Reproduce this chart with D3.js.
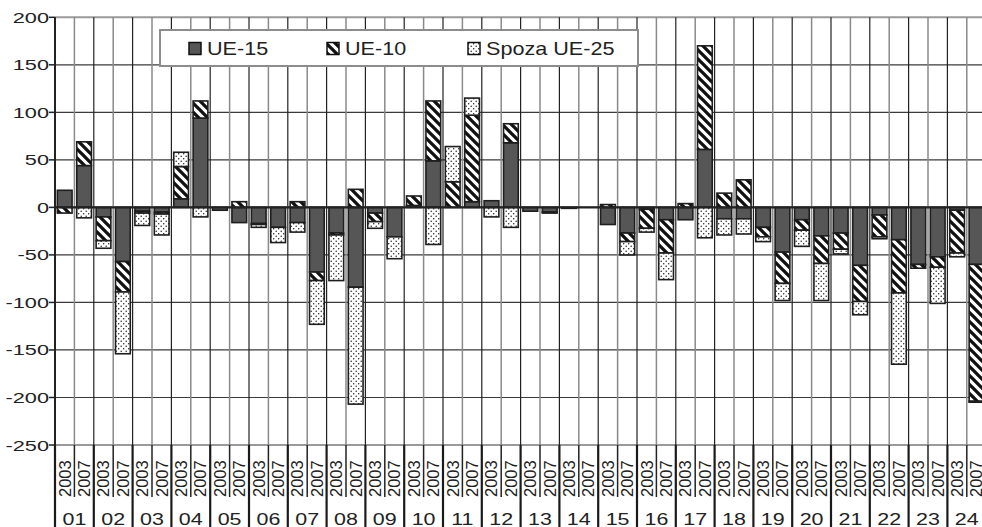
<!DOCTYPE html>
<html>
<head>
<meta charset="utf-8">
<script src="https://cdn.jsdelivr.net/npm/d3@7"></script>
<style>
  body { margin: 0; background: white; }
  text { font-family: "Liberation Sans", Arial, sans-serif; fill: #222; }
</style>
</head>
<body>
<div id="container"></div>
<script>
// data (group, then year 2003 / 2007)
let groups = ["01","02","03","04","05","06","07","08","09","10","11","12",
              "13","14","15","16","17","18","19","20","21","22","23","24"];
let years = ["2003", "2007"];
let seriesNames = ["UE-15", "UE-10", "Spoza UE-25"];
let yTicks = [-250, -200, -150, -100, -50, 0, 50, 100, 150, 200];

let ue15 = [18, 44, -10, -57, -4, -5, 9, 94, -3, -16, -17, -21, -16, -68, -27, -84,
            -6, -31, 2, 49, 0, 6, 7, 68, -4, -5, -1, 0, -18, -27, -2, -13,
            -13, 61, -12, -12, -21, -47, -13, -30, -27, -61, -8, -34, -60, -52, -3, -60];
let ue10 = [-6, 25, -25, -32, -2, -2, 34, 18, 0, 6, -1, 0, 6, -9, -2, 19,
            -9, 0, 10, 63, 27, 91, 0, 20, 0, -1, 0, 0, 3, -9, -20, -35,
            4, 109, 15, 29, -10, -33, -11, -29, -17, -38, -23, -56, -4, -11, -45, -144];
let spoza = [0, -11, -8, -65, -13, -22, 15, -10, 0, 0, -3, -16, -10, -46, -48, -123,
             -7, -23, 0, -39, 37, 18, -10, -21, 0, 0, 0, 0, 0, -14, -4, -28,
             0, -32, -17, -16, -5, -18, -17, -39, -5, -14, -2, -75, 0, -38, -4, -1];

let w = 982;
let h = 527;
let plotLeft = 55;
let colW = 19.4;
let plotTop = 17.3;
let plotBottom = 445;

let viz = d3.select("#container")
              .append("svg")
                .attr("width", w)
                .attr("height", h)
                .style("display", "block")
                .style("background-color", "white")
;

// rows for the stack
let rows = [];
groups.forEach((g, gi) => {
  years.forEach((yr, yi) => {
    let i = gi * 2 + yi;
    rows.push({group: g, year: yr, "UE-15": ue15[i], "UE-10": ue10[i], "Spoza UE-25": spoza[i]});
  });
});

let x0 = d3.scaleBand()
            .domain(groups)
            .range([plotLeft, plotLeft + groups.length * 2 * colW])
            .padding(0)
;
let x1 = d3.scaleBand()
            .domain(years)
            .range([0, x0.bandwidth()])
            .paddingInner(0.24)
            .paddingOuter(0.12)
;
let yearCol = d3.scaleBand()
            .domain(years)
            .range([0, x0.bandwidth()])
;
let y = d3.scaleLinear()
            .domain([-250, 200])
            .range([plotBottom, plotTop])
;

// patterns
let defs = viz.append("defs");
let hatch = defs.append("pattern")
              .attr("id", "hatch")
              .attr("patternUnits", "userSpaceOnUse")
              .attr("width", 9)
              .attr("height", 9)
;
hatch.append("rect").attr("width", 9).attr("height", 9).attr("fill", "white");
hatch.append("path")
        .attr("d", "M-1,-1 L10,10 M-5,4 L5,14 M4,-5 L14,5")
        .attr("stroke", "#111")
        .attr("stroke-width", 3.3)
;
let dots = defs.append("pattern")
              .attr("id", "dots")
              .attr("patternUnits", "userSpaceOnUse")
              .attr("width", 5)
              .attr("height", 5)
;
dots.append("rect").attr("width", 5).attr("height", 5).attr("fill", "white");
dots.append("circle").attr("cx", 1.2).attr("cy", 1.2).attr("r", 0.75).attr("fill", "#222");
dots.append("circle").attr("cx", 3.7).attr("cy", 3.7).attr("r", 0.75).attr("fill", "#222");

let fills = {"UE-15": "#565656", "UE-10": "url(#hatch)", "Spoza UE-25": "url(#dots)"};

// grid: horizontal
viz.selectAll(".hgrid").data(yTicks).enter()
    .append("line")
      .attr("class", "hgrid")
      .attr("x1", plotLeft)
      .attr("x2", w)
      .attr("y1", d => y(d))
      .attr("y2", d => y(d))
      .attr("stroke", d => (d == 200 || d == -250) ? "#9a9a9a" : "#3a3a3a")
      .attr("stroke-width", d => (d == 200 || d == -250) ? 2 : 1.2)
;
// grid: vertical, one per column
let colEdges = d3.range(groups.length * 2 + 1);
viz.selectAll(".vgrid").data(colEdges).enter()
    .append("line")
      .attr("class", "vgrid")
      .attr("x1", d => plotLeft + d * colW)
      .attr("x2", d => plotLeft + d * colW)
      .attr("y1", plotTop)
      .attr("y2", plotBottom)
      .attr("stroke", d => d % 2 == 0 ? "#222" : "#8a8a8a")
      .attr("stroke-width", d => d % 2 == 0 ? 1.2 : 1.5)
;

// legend box (sits over the grid, under the bars)
let legend = viz.append("g").attr("transform", "translate(160,30)");
legend.append("rect")
        .attr("width", 478)
        .attr("height", 36)
        .attr("fill", "white")
        .attr("stroke", "#8c8c8c")
        .attr("stroke-width", 2)
;
let legX = [29, 167, 308];
seriesNames.forEach((s, i) => {
  legend.append("rect")
          .attr("x", legX[i])
          .attr("y", 12.5)
          .attr("width", 12)
          .attr("height", 12)
          .attr("fill", fills[s])
          .attr("stroke", "#111")
          .attr("stroke-width", 1.5)
  ;
  legend.append("text")
          .attr("transform", "translate(" + (legX[i] + 18) + ",25) scale(1.2,1)")
          .style("font-size", "18px")
          .text(s)
  ;
});

// stacked bars, positives up and negatives down
let stack = d3.stack()
              .keys(seriesNames)
              .offset(d3.stackOffsetDiverging)
;
let layers = stack(rows);

let layerGroups = viz.selectAll(".layer").data(layers).enter()
                      .append("g")
                        .attr("class", "layer")
                        .attr("fill", d => fills[d.key])
;
layerGroups.selectAll("rect").data(d => d.filter(p => p[1] - p[0] != 0)).enter()
    .append("rect")
      .attr("x", d => x0(d.data.group) + x1(d.data.year))
      .attr("width", x1.bandwidth())
      .attr("y", d => y(Math.max(d[0], d[1])))
      .attr("height", d => Math.abs(y(d[0]) - y(d[1])))
      .attr("stroke", "#1e1e1e")
      .attr("stroke-width", 1.6)
;

// zero line
viz.append("line")
    .attr("x1", plotLeft)
    .attr("x2", w)
    .attr("y1", y(0))
    .attr("y2", y(0))
    .attr("stroke", "#222")
    .attr("stroke-width", 2.4)
;

// y axis
viz.append("line")
    .attr("x1", plotLeft)
    .attr("x2", plotLeft)
    .attr("y1", plotTop)
    .attr("y2", h)
    .attr("stroke", "#222")
    .attr("stroke-width", 2)
;
viz.selectAll(".ytick").data(yTicks).enter()
    .append("line")
      .attr("class", "ytick")
      .attr("x1", plotLeft - 6)
      .attr("x2", plotLeft)
      .attr("y1", d => y(d))
      .attr("y2", d => y(d))
      .attr("stroke", "#222")
      .attr("stroke-width", 1.5)
;
viz.selectAll(".ylabel").data(yTicks).enter()
    .append("text")
      .attr("class", "ylabel")
      .attr("transform", d => "translate(49," + (y(d) + 5.5) + ") scale(1.45,1)")
      .attr("text-anchor", "end")
      .style("font-size", "15px")
      .text(d => d)
;

// category axis below the plot
let bottomAxis = viz.append("g");
// separators between years
bottomAxis.selectAll(".ysep").data(colEdges.filter(d => d % 2 == 1)).enter()
    .append("line")
      .attr("class", "ysep")
      .attr("x1", d => plotLeft + d * colW)
      .attr("x2", d => plotLeft + d * colW)
      .attr("y1", plotBottom)
      .attr("y2", 497)
      .attr("stroke", "#222")
      .attr("stroke-width", 1.5)
;
// separators between groups
bottomAxis.selectAll(".gsep").data(colEdges.filter(d => d % 2 == 0)).enter()
    .append("line")
      .attr("class", "gsep")
      .attr("x1", d => plotLeft + d * colW)
      .attr("x2", d => plotLeft + d * colW)
      .attr("y1", plotBottom)
      .attr("y2", h)
      .attr("stroke", "#1a1a1a")
      .attr("stroke-width", 2.2)
;
bottomAxis.selectAll(".yearLabel").data(rows).enter()
    .append("text")
      .attr("class", "yearLabel")
      .attr("transform", d => "translate(" + (x0(d.group) + yearCol(d.year) + yearCol.bandwidth() / 2) + ",497) rotate(-90)")
      .attr("dy", "0.36em")
      .style("font-size", "16.5px")
      .text(d => d.year)
;
bottomAxis.selectAll(".groupLabel").data(groups).enter()
    .append("text")
      .attr("class", "groupLabel")
      .attr("transform", d => "translate(" + (x0(d) + x0.bandwidth() / 2) + ",525) scale(1.3,1)")
      .attr("text-anchor", "middle")
      .style("font-size", "16.5px")
      .text(d => d)
;
</script>
</body>
</html>
